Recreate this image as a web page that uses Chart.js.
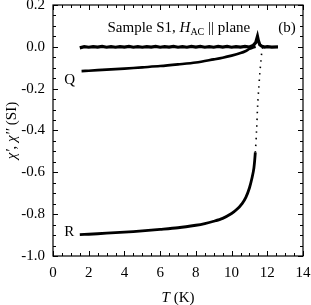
<!DOCTYPE html>
<html>
<head>
<meta charset="utf-8">
<script src="https://cdn.jsdelivr.net/npm/chart.js@4"></script>
<style>
html, body { margin: 0; padding: 0; background: #fff; }
#wrap { width: 311px; height: 305px; position: relative; }
</style>
</head>
<body>
<div id="wrap"><canvas id="chart"></canvas></div>
<script>
// chart values
const xTicks = [0, 2, 4, 6, 8, 10, 12, 14];
const yTicks = [0.2, 0.0, -0.2, -0.4, -0.6, -0.8, -1.0];

// chi'' (noisy band around zero, small peak near Tc)
const chi2T = [1.5, 1.75, 2.0, 2.25, 2.5, 2.75, 3.0, 3.25, 3.5, 3.75, 4.0, 4.25, 4.5, 4.75,
  5.0, 5.25, 5.5, 5.75, 6.0, 6.25, 6.5, 6.75, 7.0, 7.25, 7.5, 7.75, 8.0, 8.25, 8.5, 8.75,
  9.0, 9.25, 9.5, 9.75, 10.0, 10.25, 10.5, 10.75, 11.0, 11.2, 11.35, 11.45, 11.5, 11.58,
  11.7, 11.85, 12.0, 12.25, 12.6];
const chi2 = [-0.005, 0.001, -0.002, 0.001, -0.001, 0.002, -0.002, 0.001, -0.002, 0.001,
  -0.001, 0.002, -0.002, 0.001, -0.002, 0.001, -0.001, 0.002, -0.002, 0.001, -0.001, 0.002,
  -0.002, 0.001, -0.002, 0.002, -0.001, 0.002, -0.002, 0.001, -0.002, 0.002, -0.001, 0.002,
  -0.002, 0.001, -0.001, 0.002, -0.001, 0.006, 0.02, 0.05, 0.03, 0.01, 0.003, -0.001, 0.001,
  -0.001, 0.0];

// chi' curve Q
const qT = [1.6, 2, 3, 4, 5, 6, 7, 8, 9, 9.5, 10, 10.5, 10.8, 11.0, 11.2, 11.35];
const qChi = [-0.116, -0.114, -0.109, -0.104, -0.098, -0.092, -0.084, -0.075, -0.060, -0.052,
  -0.042, -0.030, -0.020, -0.010, -0.003, 0.0];

// chi' curve R
const rT = [1.5, 2, 3, 4, 5, 6, 7, 8, 8.5, 9, 9.5, 10, 10.3, 10.6, 10.8, 11.0, 11.15, 11.25,
  11.33, 11.4, 11.46, 11.52, 11.58, 11.64, 11.7, 11.75];
const rChi = [-0.898, -0.896, -0.891, -0.886, -0.880, -0.873, -0.865, -0.853, -0.845, -0.834,
  -0.820, -0.797, -0.777, -0.748, -0.720, -0.675, -0.625, -0.580, -0.505, -0.400, -0.280,
  -0.200, -0.130, -0.070, -0.020, 0.0];

const pts = (xs, ys) => xs.map((t, i) => ({ x: t, y: ys[i] }));

const SERIF = '"Liberation Serif", "Times New Roman", serif';

// draws a run of text pieces with different fonts, starting at x
function drawParts(ctx, parts, x, y) {
  let cx = x;
  parts.forEach(p => {
    ctx.font = p.font;
    ctx.fillText(p.text, cx, y + (p.dy || 0));
    cx += ctx.measureText(p.text).width;
  });
  return cx - x;
}
function partsWidth(ctx, parts) {
  let w = 0;
  parts.forEach(p => { ctx.font = p.font; w += ctx.measureText(p.text).width; });
  return w;
}

const framePlugin = {
  id: 'frame',
  afterDraw(chart) {
    const { ctx, chartArea: a, scales: { x, y } } = chart;
    ctx.save();
    ctx.strokeStyle = '#000';
    ctx.fillStyle = '#000';
    ctx.lineWidth = 1.2;
    ctx.strokeRect(a.left, a.top, a.right - a.left, a.bottom - a.top);

    // inward ticks on all four sides
    ctx.lineWidth = 1;
    ctx.beginPath();
    for (let i = 0; i <= 28; i++) {
      const px = Math.round(x.getPixelForValue(i * 0.5)) + 0.5;
      const len = i % 4 === 0 ? 5 : 3;
      ctx.moveTo(px, a.bottom); ctx.lineTo(px, a.bottom - len);
      ctx.moveTo(px, a.top); ctx.lineTo(px, a.top + len);
    }
    for (let i = 0; i <= 24; i++) {
      const py = Math.round(y.getPixelForValue(-1 + i * 0.05)) + 0.5;
      const len = i % 4 === 0 ? 5 : 3;
      ctx.moveTo(a.left, py); ctx.lineTo(a.left + len, py);
      ctx.moveTo(a.right, py); ctx.lineTo(a.right - len, py);
    }
    ctx.stroke();

    ctx.textBaseline = 'alphabetic';
    ctx.textAlign = 'left';
    const norm = '15px ' + SERIF;
    const ital = 'italic 15px ' + SERIF;

    // annotation
    drawParts(ctx, [
      { text: 'Sample S1, ', font: norm },
      { text: 'H', font: ital },
      { text: 'AC', font: '10px ' + SERIF, dy: 3 },
      { text: ' || plane', font: norm }
    ], x.getPixelForValue(3.05), y.getPixelForValue(0.072));
    ctx.font = norm;
    ctx.fillText('(b)', x.getPixelForValue(12.62), y.getPixelForValue(0.072));

    ctx.textAlign = 'center';
    ctx.textBaseline = 'middle';
    ctx.fillText('Q', x.getPixelForValue(0.94), y.getPixelForValue(-0.159));
    ctx.fillText('R', x.getPixelForValue(0.91), y.getPixelForValue(-0.885));

    // x axis title
    ctx.textAlign = 'left';
    ctx.textBaseline = 'alphabetic';
    const xt = [{ text: 'T', font: ital }, { text: ' (K)', font: norm }];
    const xw = partsWidth(ctx, xt);
    drawParts(ctx, xt, (a.left + a.right) / 2 - xw / 2, 302);

    // y axis title, rotated
    const yt = [
      { text: 'χ\'', font: ital }, { text: ', ', font: norm },
      { text: 'χ\'\'', font: ital }, { text: ' (SI)', font: norm }
    ];
    const yw = partsWidth(ctx, yt);
    ctx.translate(16, (a.top + a.bottom) / 2);
    ctx.rotate(-Math.PI / 2);
    drawParts(ctx, yt, -yw / 2, 0);
    ctx.restore();
  }
};

const tickFont = { family: SERIF, size: 15 };

new Chart(document.getElementById('chart'), {
  type: 'scatter',
  data: {
    datasets: [
      {
        label: "chi''",
        data: pts(chi2T, chi2),
        showLine: true,
        borderColor: '#000',
        borderWidth: 3.2,
        pointRadius: 0,
        tension: 0
      },
      {
        label: 'Q',
        data: pts(qT, qChi),
        showLine: true,
        borderColor: '#000',
        borderWidth: 2.6,
        pointRadius: 0,
        tension: 0.3
      },
      {
        label: 'R',
        data: pts(rT, rChi),
        showLine: true,
        borderColor: '#000',
        borderWidth: 2.8,
        pointRadius: 0,
        tension: 0.3,
        segment: {
          borderDash: c => c.p0.parsed.x >= 11.32 ? [1.5, 5] : undefined,
          borderWidth: c => c.p0.parsed.x >= 11.32 ? 1.6 : 2.8
        }
      }
    ]
  },
  options: {
    responsive: true,
    maintainAspectRatio: false,
    animation: false,
    layout: { padding: { top: 5, right: 8, left: 0, bottom: 0 } },
    plugins: { legend: { display: false }, tooltip: { enabled: false } },
    scales: {
      x: {
        type: 'linear',
        min: 0, max: 14,
        afterBuildTicks: s => { s.ticks = xTicks.map(v => ({ value: v })); },
        afterFit: s => { s.height = 49; s.paddingLeft = 0; s.paddingRight = 0; },
        grid: { display: false, drawTicks: false },
        border: { display: false },
        ticks: { font: tickFont, color: '#000', padding: 8, maxRotation: 0, autoSkip: false }
      },
      y: {
        type: 'linear',
        min: -1, max: 0.2,
        afterBuildTicks: s => { s.ticks = yTicks.map(v => ({ value: v })); },
        afterFit: s => { s.width = 53; s.paddingTop = 0; s.paddingBottom = 0; },
        grid: { display: false, drawTicks: false },
        border: { display: false },
        ticks: {
          font: tickFont, color: '#000', padding: 8, autoSkip: false,
          callback: v => v.toFixed(1)
        }
      }
    }
  },
  plugins: [framePlugin]
});
</script>
</body>
</html>
